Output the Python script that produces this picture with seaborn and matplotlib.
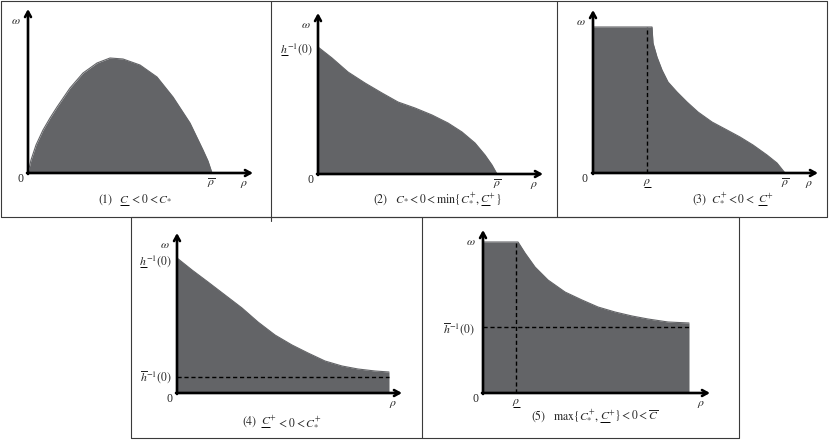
import matplotlib
matplotlib.use("Agg")
import matplotlib.pyplot as plt
import seaborn as sns

sns.set_style("white")
plt.rcParams['font.family'] = ['Liberation Serif', 'DejaVu Serif']
plt.rcParams['mathtext.fontset'] = 'stix'
plt.rcParams['font.size'] = 8.5

FILL = '#636467'
W, H = 830, 440

# values (pixels from each panel's origin)
rho1 = [0, 3, 8, 15, 22, 29, 42, 55, 69, 82, 95, 112, 129, 145, 162, 175, 180, 184]
omega1 = [0, 13, 28, 43, 55, 66, 85, 100, 110, 115, 114, 108, 96, 76, 50, 23, 12, 0]

rho2 = [0, 14, 30, 47, 64, 80, 97, 114, 130, 144, 157, 167, 174, 179]
omega2 = [127, 116, 102, 91, 81, 72, 66, 59, 51, 42, 31, 19, 9, 0]

rho3 = [0, 59, 60, 64, 69, 75, 84, 94, 105, 119, 134, 147, 160, 174, 184, 192]
omega3 = [146, 146, 130, 116, 103, 91, 81, 71, 61, 51, 43, 36, 28, 18, 10, 0]
rho3_low = 54

rho4 = [0, 15, 31, 48, 65, 81, 98, 115, 131, 148, 165, 181, 198, 212]
omega4 = [135, 123, 111, 98, 85, 71, 58, 48, 40, 32, 27, 24, 22, 21]
hbar4 = 16

rho5 = [0, 35, 42, 52, 65, 82, 99, 115, 132, 149, 165, 185, 206]
omega5 = [151, 151, 140, 126, 113, 101, 93, 86, 81, 77, 74, 71, 70]
rho5_low = 33
hbar5 = 66

# caption pieces: plain string, (string, underlined part) or a gap in pixels
UC = (r'$C^{+}$', r'$C$')
captions = [
    [r'$\mathrm{(1)}$', 6, (r'$C$', r'$C$'), r'$<0<C_{*}$'],
    [r'$\mathrm{(2)}\ \ \ C_{*}<0<\min\{C_{*}^{+},$', 1, UC, -1.5, r'$\}$'],
    [r'$\mathrm{(3)}\ \ C_{*}^{+}<0<$', 2.5, UC],
    [r'$\mathrm{(4)}$', 3, UC, r'$<0<C_{*}^{+}$'],
    [r'$\mathrm{(5)}\ \ \ \max\{C_{*}^{+},$', 1, UC, -1.5,
     r'$\}<0<\overline{C}$'],
]
caption_pos = [(135, 203), (437, 203), (733, 203), (282, 425), (595, 420)]

fig = plt.figure(figsize=(W / 100, H / 100), dpi=100)
bg = fig.add_axes([0, 0, 1, 1])
bg.set_xlim(0, W)
bg.set_ylim(H, 0)
bg.axis('off')
renderer = fig.canvas.get_renderer()


def text_width(s, size):
    t = bg.text(0, 0, s, fontsize=size)
    w = t.get_window_extent(renderer).width
    t.remove()
    return w


def rich(x, y, parts, ha='center', size=8.5, ul_gap=2.2):
    # x, y: baseline anchor in figure pixels (y downward)
    items = []
    for p in parts:
        if isinstance(p, (int, float)):
            items.append((None, None, p))
        elif isinstance(p, tuple):
            items.append((p[0], p[1], text_width(p[0], size)))
        else:
            items.append((p, None, text_width(p, size)))
    total = sum(w for _, _, w in items)
    x0 = {'center': x - total / 2, 'right': x - total, 'left': x}[ha]
    for s, u, w in items:
        if s is not None:
            bg.text(x0, y, s, fontsize=size, ha='left', va='baseline')
        if u is not None:
            uw = text_width(u, size)
            bg.plot([x0 + 0.5, x0 + uw - 0.3], [y + ul_gap, y + ul_gap],
                    color='black', lw=0.7, solid_capstyle='butt')
        x0 += w


def to_px(ax, xd, yd):
    dx, dy = ax.transData.transform((xd, yd))
    return dx, H - dy


# panel frames
frame = dict(color='#3a3a3a', lw=0.8)
bg.plot([1, 827, 827, 1, 1], [1, 1, 217, 217, 1], **frame)
bg.plot([271, 271], [1, 221], **frame)
bg.plot([557, 557], [1, 217], **frame)
bg.plot([131, 739, 739, 131, 131], [217, 217, 438, 438, 217], **frame)
bg.plot([422, 422], [217, 438], **frame)

for (cx, cy), parts in zip(caption_pos, captions):
    rich(cx, cy, parts)


def panel(ox, oy, w, h):
    ax = fig.add_axes([ox / W, (H - oy) / H, w / W, h / H])
    ax.set_xlim(0, w)
    ax.set_ylim(0, h)
    ax.axis('off')
    return ax


def draw_axes(ax, w, h):
    arrow = dict(arrowstyle='->,head_length=0.45,head_width=0.25', lw=1.9,
                 color='black', shrinkA=0, shrinkB=0)
    ax.annotate('', xy=(w, 0), xytext=(-1, 0), arrowprops=arrow,
                annotation_clip=False)
    ax.annotate('', xy=(0, h), xytext=(0, -1), arrowprops=arrow,
                annotation_clip=False)
    lab = dict(textcoords='offset pixels', ha='center', va='center',
               annotation_clip=False)
    ax.annotate(r'$\omega$', xy=(0, h), xytext=(-12, -12), **lab)
    ax.annotate('0', xy=(0, 0), xytext=(-8, -6), **lab)
    ax.annotate(r'$\rho$', xy=(w, 0), xytext=(-9, -11), **lab)


def draw_region(ax, rho, omega):
    ax.fill_between(rho, omega, 0, color=FILL, lw=0)
    sns.lineplot(x=rho, y=omega, ax=ax, color=FILL, lw=0.8, sort=False,
                 estimator=None)


def rho_low_label(ax, x):
    px, py = to_px(ax, x, 0)
    rich(px, py + 11, [(r'$\rho$', r'$\rho$')], ul_gap=3.2)


def h_low_label(ax, y, drop):
    px, py = to_px(ax, 0, y)
    rich(px - 5, py + drop, [(r'$h^{-1}(0)$', r'$h$')], ha='right')


lab = dict(textcoords='offset pixels', va='center', annotation_clip=False)
dash = (0, (3, 2))

# (1)
ax1 = panel(28, 173, 225, 164)
draw_region(ax1, rho1, omega1)
draw_axes(ax1, 225, 164)
ax1.annotate(r'$\overline{\rho}$', xy=(rho1[-1], 0), xytext=(-1, -10),
             ha='center', **lab)

# (2)
ax2 = panel(318, 174, 225, 161)
draw_region(ax2, rho2, omega2)
draw_axes(ax2, 225, 161)
ax2.annotate(r'$\overline{\rho}$', xy=(rho2[-1], 0), xytext=(0, -10),
             ha='center', **lab)
h_low_label(ax2, omega2[0], 6)

# (3)
ax3 = panel(593, 173, 225, 163)
draw_region(ax3, rho3, omega3)
ax3.vlines(rho3_low, 0, omega3[0], colors='black', lw=1, linestyles=dash)
draw_axes(ax3, 225, 163)
ax3.annotate(r'$\overline{\rho}$', xy=(rho3[-1], 0), xytext=(0, -10),
             ha='center', **lab)
rho_low_label(ax3, rho3_low)

# (4)
ax4 = panel(177, 393, 225, 160)
draw_region(ax4, rho4, omega4)
ax4.hlines(hbar4, 0, rho4[-1], colors='black', lw=1, linestyles=dash)
draw_axes(ax4, 225, 160)
h_low_label(ax4, omega4[0], 7)
ax4.annotate(r'$\overline{h}^{-1}(0)$', xy=(0, hbar4), xytext=(-5, -1),
             ha='right', **lab)

# (5)
ax5 = panel(483, 393, 227, 163)
draw_region(ax5, rho5, omega5)
ax5.hlines(hbar5, 0, rho5[-1], colors='black', lw=1, linestyles=dash)
ax5.vlines(rho5_low, 0, omega5[0], colors='black', lw=1, linestyles=dash)
draw_axes(ax5, 227, 163)
rho_low_label(ax5, rho5_low)
ax5.annotate(r'$\overline{h}^{-1}(0)$', xy=(0, hbar5), xytext=(-8, -3),
             ha='right', **lab)

fig.savefig('out.png', dpi=100)
